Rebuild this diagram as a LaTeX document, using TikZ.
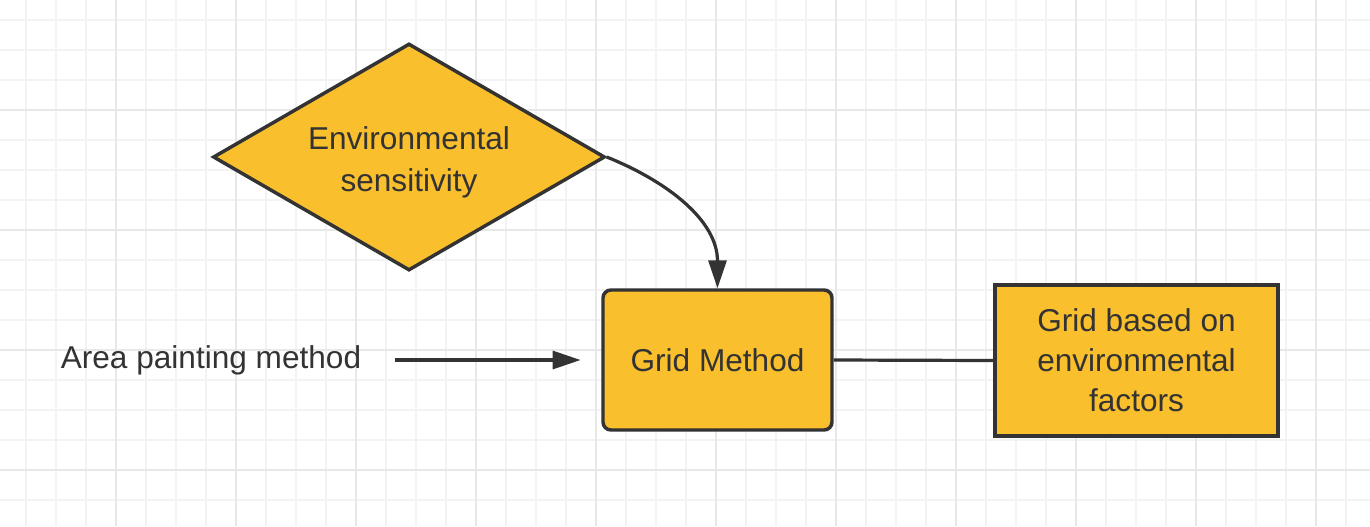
\documentclass[tikz,border=0pt]{standalone}
\usepackage{fontspec}
\setmainfont{Liberation Sans}
\usetikzlibrary{shapes.geometric,arrows.meta}
\definecolor{boxfill}{HTML}{F9BF2D}
\definecolor{ink}{HTML}{333333}
\definecolor{gminor}{HTML}{F3F3F3}
\definecolor{gmajor}{HTML}{E8E8E8}
\tikzset{
  minorline/.style={draw=gminor,line width=1.5pt},
  majorline/.style={draw=gmajor,line width=1.5pt},
  shapebox/.style={draw=ink,fill=boxfill,line width=2.6pt,text=ink,
    font=\fontsize{23.7}{30}\selectfont,align=center,inner sep=0pt},
  conn/.style={draw=ink,line width=2.4pt},
  tipped/.style={conn,-{Triangle[length=21pt,width=13.5pt]}},
  labeltext/.style={text=ink,font=\fontsize{23.7}{30}\selectfont,inner sep=0pt}
}
\begin{document}
\begin{tikzpicture}[x=0.75pt,y=-0.75pt]
\useasboundingbox (0,0) rectangle (1370,526);
\fill[white] (0,0) rectangle (1370,526);
% grid
\foreach \x in {26,56,...,1366} \draw[minorline] (\x,0) -- (\x,526);
\foreach \y in {20,50,...,520} \draw[minorline] (0,\y) -- (1370,\y);
\foreach \x in {116,236,...,1316} \draw[majorline] (\x,0) -- (\x,526);
\foreach \y in {110,230,350,470} \draw[majorline] (0,\y) -- (1370,\y);
% nodes
\node[shapebox,diamond,aspect=1.727,minimum width=294pt,minimum height=170.25pt,
  font=\fontsize{23.7}{32}\selectfont] (env) at (409,157)
  {\raisebox{-3.75pt}[\height][\depth]{\begin{tabular}{@{}c@{}}Environmental\\sensitivity\end{tabular}}};
\node[shapebox,rectangle,rounded corners=6pt,minimum width=171.75pt,minimum height=105pt] (grid) at (717.5,360) {Grid Method};
\node[shapebox,rectangle,minimum width=212.25pt,minimum height=113.25pt] (fac) at (1136.5,360.5) {Grid based on\\environmental\\factors};
\node[labeltext] (area) at (211,360) {Area painting method};
% connectors
\draw[tipped] (env.east) to[out=-22,in=90] (grid.north);
\draw[tipped,shorten <=25pt,shorten >=15.5pt] (area.east) -- (grid.west);
\draw[conn] (grid.east) -- (fac.west);
\end{tikzpicture}
\end{document}
